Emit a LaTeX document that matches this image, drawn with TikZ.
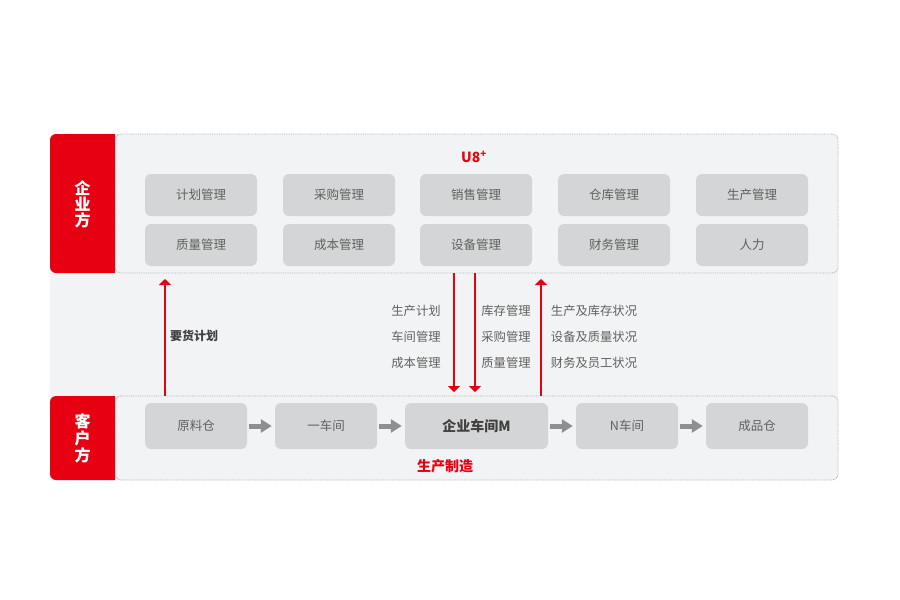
\documentclass[tikz,border=0pt]{standalone}
\usepackage{fontspec}
\setmainfont{Noto Sans CJK SC}
\usetikzlibrary{arrows.meta}
\definecolor{u8red}{HTML}{E60012}
\definecolor{boxgray}{HTML}{D4D5D6}
\definecolor{txtgray}{HTML}{606060}
\definecolor{panelgray}{HTML}{F2F3F4}
\definecolor{linegray}{HTML}{ABACAD}
\definecolor{flowgray}{HTML}{8E8F90}
\tikzset{
  module/.style={fill=boxgray, rounded corners=6pt, minimum width=112pt, minimum height=42pt, text=txtgray, font=\fontsize{12.5}{14}\selectfont},
  stage/.style={module, minimum width=102pt, minimum height=46pt},
  panel/.style={draw=linegray, densely dotted, line width=0.8pt, fill=panelgray, rounded corners=6pt},
  tab/.style={text=white, align=center, font=\fontsize{16}{16}\selectfont\bfseries},
  info/.style={text=txtgray, font=\fontsize{12.3}{14}\selectfont},
  redarrow/.style={draw=u8red, line width=1.4pt, -{Triangle[length=6pt,width=12pt]}},
  flow/.style={draw=flowgray, line width=5pt, -{Triangle[length=11pt,width=13pt]}, shorten <=2pt, shorten >=3pt}
}
\begin{document}
\begin{tikzpicture}[x=1pt,y=-1pt]
\useasboundingbox [fill=white] (0,0) rectangle (900,600);
\fill [panelgray, rounded corners=6pt] (50,134) rectangle (838,480);
\node [panel, minimum width=723pt, minimum height=139pt] (vtop) at (476.5,203.5) {};
\node [panel, minimum width=723pt, minimum height=84pt] (vbot) at (476.5,438) {};
\fill [u8red] (115,134) [rounded corners=6pt] -- (50,134) -- (50,273) [sharp corners] -- (115,273) -- cycle;
\fill [u8red] (115,396) [rounded corners=6pt] -- (50,396) -- (50,480) [sharp corners] -- (115,480) -- cycle;
\node [tab] (t0) at (82.5,204) {企\\业\\方};
\node [tab, font=\fontsize{16}{17}\selectfont\bfseries] (t1) at (82.5,438) {客\\户\\方};
\node [text=u8red, font=\fontsize{14}{16}\selectfont\bfseries] (u8) at (474,157) {U8\textsuperscript{+}};
\node [module] (m0) at (201,195) {计划管理};
\node [module] (m1) at (339,195) {采购管理};
\node [module] (m2) at (476,195) {销售管理};
\node [module] (m3) at (614,195) {仓库管理};
\node [module] (m4) at (752,195) {生产管理};
\node [module] (m5) at (201,245) {质量管理};
\node [module] (m6) at (339,245) {成本管理};
\node [module] (m7) at (476,245) {设备管理};
\node [module] (m8) at (614,245) {财务管理};
\node [module] (m9) at (752,245) {人力};
\node [stage] (s0) at (196,426) {原料仓};
\node [stage] (s1) at (326,426) {一车间};
\node [stage, minimum width=143pt, text=black!75, font=\fontsize{14}{16}\selectfont\bfseries] (s2) at (476.5,426) {企业车间M};
\node [stage] (s3) at (627,426) {N车间};
\node [stage] (s4) at (757,426) {成品仓};
\draw [flow] (s0) -- (s1);
\draw [flow] (s1) -- (s2);
\draw [flow] (s2) -- (s3);
\draw [flow] (s3) -- (s4);
\node [text=u8red, font=\fontsize{14}{16}\selectfont\bfseries] (mfg) at (445,466) {生产制造};
\coordinate (a0) at (165,396);
\coordinate (b0) at (165,279);
\coordinate (a1) at (454,273);
\coordinate (b1) at (454,392);
\coordinate (a2) at (475,273);
\coordinate (b2) at (475,392);
\coordinate (a3) at (541,396);
\coordinate (b3) at (541,279);
\draw [redarrow] (a0) -- (b0);
\draw [redarrow] (a1) -- (b1);
\draw [redarrow] (a2) -- (b2);
\draw [redarrow] (a3) -- (b3);
\node [info, text=black!75, font=\fontsize{12}{14}\selectfont\bfseries] (l0) at (194,336) {要货计划};
\node [info] (l1) at (416,311) {生产计划};
\node [info] (l2) at (416,337) {车间管理};
\node [info] (l3) at (416,363) {成本管理};
\node [info] (l4) at (506,311) {库存管理};
\node [info] (l5) at (506,337) {采购管理};
\node [info] (l6) at (506,363) {质量管理};
\node [info] (l7) at (594,311) {生产及库存状况};
\node [info] (l8) at (594,337) {设备及质量状况};
\node [info] (l9) at (594,363) {财务及员工状况};
\end{tikzpicture}
\end{document}
